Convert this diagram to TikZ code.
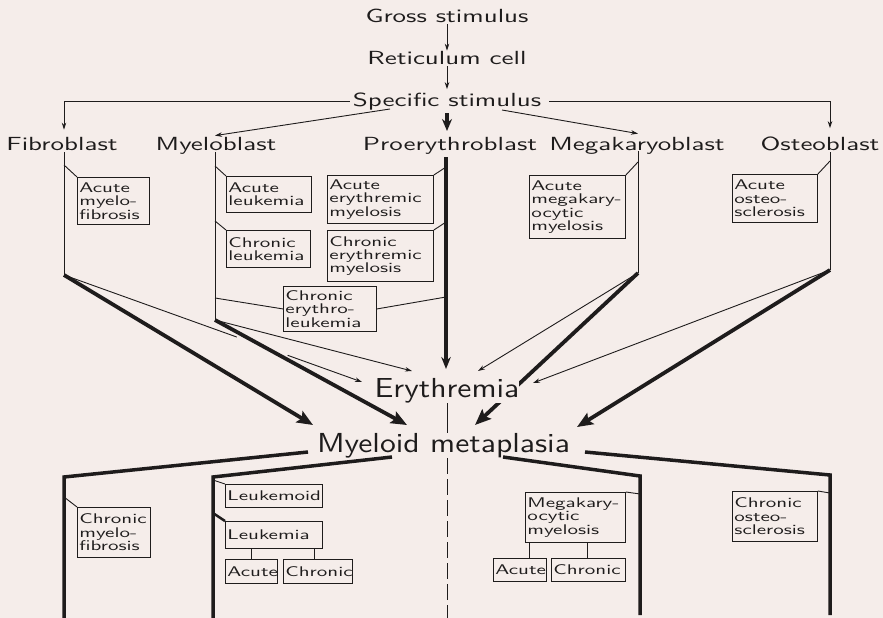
\documentclass[tikz,border=0pt]{standalone}
\usepackage{fontspec}
\newfontfamily\bigf{lmsans10-regular.otf}[FakeStretch=1.15]
\newfontfamily\midf{lmsans10-regular.otf}[FakeStretch=1.42]
\newfontfamily\boxf{lmsans10-regular.otf}[FakeStretch=1.5]
\usetikzlibrary{arrows.meta,calc}
\definecolor{bg}{RGB}{245,237,234}
\definecolor{ink}{RGB}{30,28,28}
\pgfdeclarelayer{back}
\pgfdeclarelayer{lines}
\pgfsetlayers{back,lines,main}
\tikzset{
  lab/.style={font={\midf\fontsize{19}{19}\selectfont}, inner sep=1pt, anchor=base, text=ink},
  biglab/.style={font={\bigf\fontsize{27.5}{27.5}\selectfont}, inner sep=0pt, anchor=base, fill=bg, text=ink},
  bx/.style={draw=ink, line width=0.9pt, fill=bg, font={\boxf\fontsize{14}{13.4}\selectfont}, align=left, inner xsep=2pt, inner ysep=0pt, text=ink},
  thinl/.style={draw=ink, line width=0.9pt},
  thinar/.style={thinl, -{Stealth[length=7pt,width=4.5pt]}},
  thickl/.style={draw=ink, line width=3.5pt, line join=miter},
  thickar/.style={draw=ink, line width=3.8pt, -{Stealth[length=16pt,width=13pt,inset=3pt]}},
  medar/.style={draw=ink, line width=3.2pt, -{Stealth[length=12pt,width=10pt]}},
}
\newcommand\bxn[6]{%
  \pgfmathsetmacro\bxw{#4-#2}\pgfmathsetmacro\bxh{#5-#3}\pgfmathsetmacro\bxt{#4-#2-4}%
  \node[bx, anchor=north west, minimum width=\bxw pt, minimum height=\bxh pt, text width=\bxt pt] (#1) at (#2,#3) {#6};}
\begin{document}
\begin{tikzpicture}[x=1pt,y=-1pt]
\begin{pgfonlayer}{back}
\fill[bg] (0,0) rectangle (883,618);
\end{pgfonlayer}
\useasboundingbox (0,0) rectangle (883,618);
% main labels
\node[lab] (gross) at (447,23) {Gross stimulus};
\node[lab] (retic) at (447,65) {Reticulum cell};
\node[lab, inner sep=3pt] (spec) at (447,106) {Specific stimulus};
\node[lab] (fib) at (62,150) {Fibroblast};
\node[lab] (mye) at (216,150) {Myeloblast};
\node[lab] (pro) at (450,150) {Proerythroblast};
\node[lab] (meg) at (637,150) {Megakaryoblast};
\node[lab] (ost) at (820,150) {Osteoblast};
\node[biglab] (ery) at (447,397) {Erythremia};
\node[biglab] (mm) at (443.5,452) {Myeloid metaplasia};
% coordinates
\coordinate (fibB) at (64,275);
\coordinate (myeB) at (215,320);
\coordinate (megB) at (638,273);
\coordinate (ostB) at (830,270);
\coordinate (mmA) at (313,425);
\coordinate (mmB) at (407,425);
\coordinate (mmC) at (475,425);
\coordinate (mmD) at (577,427);
\coordinate (eA) at (362,382);
\coordinate (eB) at (412,371);
\coordinate (eC) at (478,371);
\coordinate (eD) at (533,383);
\coordinate (s1) at (390,109);
\coordinate (s2) at (502,110);
% top arrows
\draw[thinar] (gross.south) -- (retic.north);
\draw[thinar] (retic.south) -- (spec.north);
\draw[thinar] (spec.west) -| ([yshift=6pt]fib.north -| fibB);
\draw[thinar] ([xshift=5pt]spec.east) -| ([yshift=7pt]ost.north -| ostB);
\draw[thinar] (s1) -- (mye.north -| myeB);
\draw[thinar] (s2) -- ([yshift=2pt]meg.north -| megB);
\draw[medar] (447,113) -- (447,131);
% columns
\draw[thinl] (64,152) -- (fibB);
\draw[thinl] (215,152) -- (myeB);
\draw[thinl] (638,151) -- (megB);
\draw[thinl] (830,152) -- (ostB);
\draw[ink, line width=3.2pt, -{Stealth[length=12pt,width=9.5pt]}] (446,157) -- (446,369);
% upper boxes
\bxn{amf}{77}{177}{149}{224}{Acute\\myelo-\\fibrosis}
\bxn{al}{226}{176}{311}{212}{Acute\\leukemia}
\bxn{cl}{226}{230}{310}{267}{Chronic\\leukemia}
\bxn{cel}{283}{286}{376}{331}{Chronic\\erythro-\\leukemia}
\bxn{aem}{327}{175}{433}{223}{Acute\\erythremic\\myelosis}
\bxn{cem}{327}{230}{433}{281}{Chronic\\erythremic\\myelosis}
\bxn{amm}{529}{175}{625}{238}{Acute\\megakary-\\ocytic\\myelosis}
\bxn{aos}{732}{174}{817}{222}{Acute\\osteo-\\sclerosis}
\draw[thinl] (64,165) -- (amf.north west);
\draw[thinl] (215,166) -- (al.north west);
\draw[thinl] (215,221) -- (cl.north west);
\draw[thinl] (215,298) -- (cel.west);
\draw[thinl] (cel.east) -- (446,297);
\draw[thinl] (446,167) -- (aem.north east);
\draw[thinl] (446,222) -- (cem.north east);
\draw[thinl] (638,162) -- (amm.north east);
\draw[thinl] (830,161) -- (aos.north east);
% converging
\draw[thickar] (fibB) -- (mmA);
\draw[thinar] (fibB) -- (eA);
\draw[bg, line width=3pt] ($(fibB)!0.58!(eA)$) -- ($(fibB)!0.75!(eA)$);
\draw[thickar] (myeB) -- (mmB);
\draw[thinar] (myeB) -- (eB);
\begin{pgfonlayer}{lines}
\draw[thickar] (megB) -- (mmC);
\draw[thinl] (447,400) -- (447,440);
\draw[thinl, dash pattern=on 16pt off 5pt] (447,458) -- (447,618);
\end{pgfonlayer}
\draw[thinar] (megB) -- (eC);
\draw[thickar] (ostB) -- (mmD);
\draw[thinar] (ostB) -- (eD);
% bottom branches
\draw[thickl] (308,452) -- (64,477) -- (64,618);
\draw[thickl] (392,457) -- (213,477) -- (213,618);
\draw[thickl] (503,457) -- (640,476) -- (640,615);
\draw[thickl] (585,452) -- (830,475) -- (830,615);
% lower boxes
\bxn{cmf}{77}{507}{150}{557}{Chronic\\myelo-\\fibrosis}
\bxn{lkd}{225}{484}{322}{507}{Leukemoid}
\bxn{lk}{225}{521}{322}{548}{Leukemia}
\bxn{lka}{225}{559}{277}{583}{Acute}
\bxn{lkc}{283}{559}{352}{583}{Chronic}
\bxn{mmy}{525}{492}{625}{542}{Megakary-\\ocytic\\myelosis}
\bxn{mma}{493}{558}{546}{581}{Acute}
\bxn{mmc}{551}{558}{625}{581}{Chronic}
\bxn{cos}{732}{491}{817}{541}{Chronic\\osteo-\\sclerosis}
\draw[thinl] (64,497) -- (cmf.north west);
\draw[thinl] (213,480) -- (lkd.north west);
\draw[ink, line width=2.5pt] (213,513) -- (lk.north west);
\draw[thinl] (lka.north |- lk.south) -- (lka.north);
\draw[thinl] ([xshift=-3.5pt]lkc.north |- lk.south) -- ([xshift=-3.5pt]lkc.north);
\draw[thinl] ([xshift=4pt]mmy.south west) -- ([xshift=4pt]mmy.south west |- mma.north);
\draw[thinl] ([xshift=-1pt]mmc.north |- mmy.south) -- ([xshift=-1pt]mmc.north);
\draw[thinl] (640,494) -- (mmy.north east);
\draw[thinl] (830,493) -- (cos.north east);
\end{tikzpicture}
\end{document}
